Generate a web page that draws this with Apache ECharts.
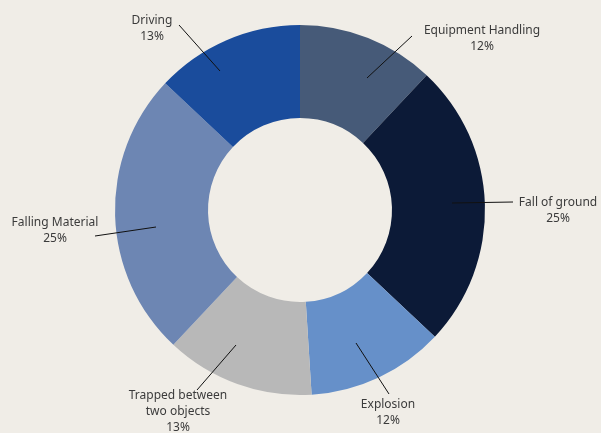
<!DOCTYPE html>
<html>
<head>
<meta charset="utf-8">
<script src="https://cdn.jsdelivr.net/npm/echarts@6/dist/echarts.min.js"></script>
<style>
  html, body { margin: 0; padding: 0; background: #f0ede7; }
  #chart { width: 601px; height: 433px; }
</style>
</head>
<body>
<div id="chart"></div>
<script>
// Fatal incident causes, share of total (%), clockwise from 12 o'clock
const categories = ['Equipment Handling', 'Fall of ground', 'Explosion', 'Trapped between\ntwo objects', 'Falling Material', 'Driving'];
const shares = [12, 25, 12, 13, 25, 13];
const sliceColors = ['#465a78', '#0c1a37', '#6690c9', '#b8b8b8', '#6d86b3', '#1a4c9c'];

// Label placement: text centre (tx, ty), leader line from ring (sx, sy) to text (ex, ey)
const labelPlacement = [
  { tx: 482, ty: 39,  sx: 367, sy: 78,  ex: 412, ey: 36 },
  { tx: 558, ty: 211, sx: 452, sy: 203, ex: 513, ey: 202 },
  { tx: 388, ty: 413, sx: 356, sy: 343, ex: 389, ey: 394 },
  { tx: 178, ty: 412, sx: 236, sy: 345, ex: 197, ey: 390 },
  { tx: 55,  ty: 231, sx: 156, sy: 227, ex: 95,  ey: 236 },
  { tx: 152, ty: 29,  sx: 220, sy: 71,  ex: 179, ey: 25 }
];

const chart = echarts.init(document.getElementById('chart'), null, { renderer: 'canvas' });

const ring = {
  center: [300, 210],
  radius: [92, 185],
  startAngle: 90,
  clockwise: true
};

chart.setOption({
  backgroundColor: '#f0ede7',
  animation: false,
  series: [
    // coloured donut ring
    Object.assign({
      type: 'pie',
      z: 2,
      silent: true,
      itemStyle: { borderWidth: 0 },
      label: { show: false },
      labelLine: { show: false },
      data: categories.map((name, i) => ({
        name: name,
        value: shares[i],
        itemStyle: { color: sliceColors[i] }
      }))
    }, ring),
    // same slices, invisible, carrying the labels and leader lines above the ring
    Object.assign({
      type: 'pie',
      z: 5,
      silent: true,
      avoidLabelOverlap: false,
      itemStyle: { color: 'rgba(0,0,0,0)', borderWidth: 0 },
      label: {
        show: true,
        position: 'outside',
        formatter: '{b}\n{d}%',
        fontFamily: 'Noto Sans',
        fontSize: 12,
        lineHeight: 16,
        color: '#3b3b3b',
        width: 200,
        overflow: 'none'
      },
      labelLine: {
        show: true,
        length: 10,
        length2: 10,
        lineStyle: { color: '#111111', width: 1 }
      },
      labelLayout: function (params) {
        const p = labelPlacement[params.dataIndex];
        return {
          x: p.tx,
          y: p.ty,
          align: 'center',
          verticalAlign: 'middle',
          labelLinePoints: [[p.sx, p.sy], [p.ex, p.ey]]
        };
      },
      data: categories.map((name, i) => ({ name: name, value: shares[i] }))
    }, ring)
  ]
});
</script>
</body>
</html>
